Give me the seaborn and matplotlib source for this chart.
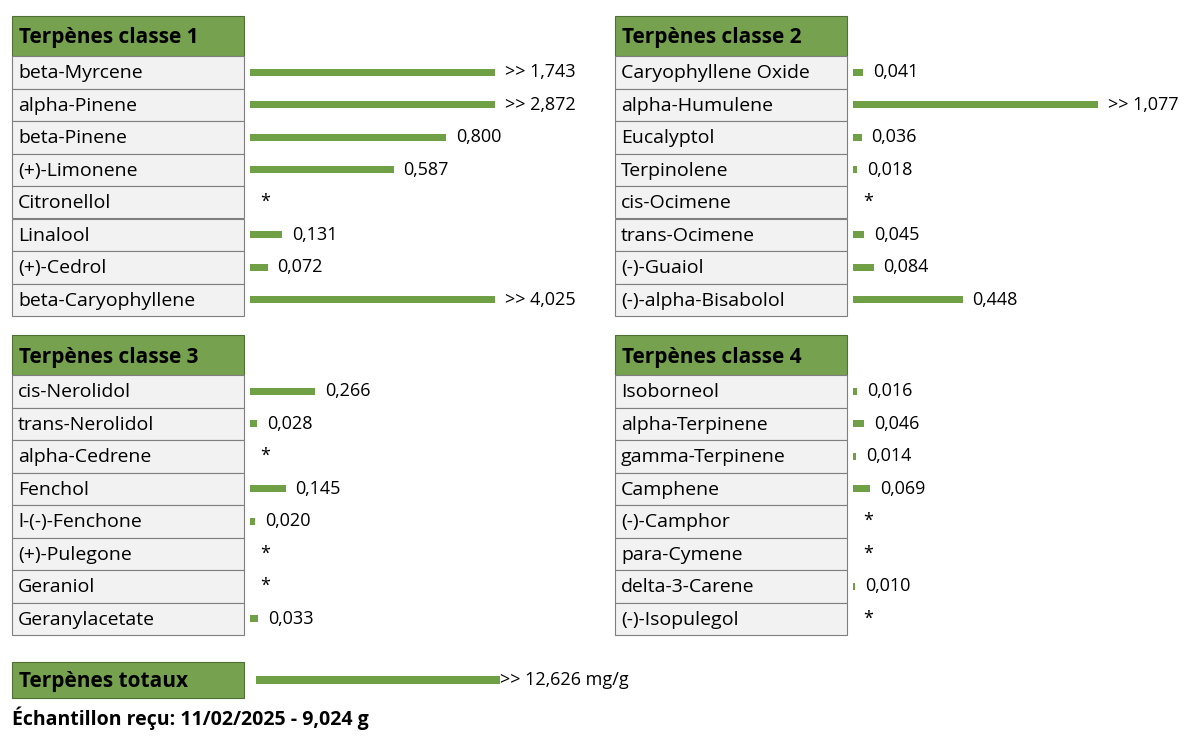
import numpy as np
import pandas as pd
import matplotlib
matplotlib.use("Agg")
import matplotlib.pyplot as plt
from matplotlib.patches import Rectangle
import seaborn as sns

# data
class1_names = ["beta-Myrcene", "alpha-Pinene", "beta-Pinene", "(+)-Limonene",
                "Citronellol", "Linalool", "(+)-Cedrol", "beta-Caryophyllene"]
class1_values = [1.743, 2.872, 0.800, 0.587, np.nan, 0.131, 0.072, 4.025]
class2_names = ["Caryophyllene Oxide", "alpha-Humulene", "Eucalyptol", "Terpinolene",
                "cis-Ocimene", "trans-Ocimene", "(-)-Guaiol", "(-)-alpha-Bisabolol"]
class2_values = [0.041, 1.077, 0.036, 0.018, np.nan, 0.045, 0.084, 0.448]
class3_names = ["cis-Nerolidol", "trans-Nerolidol", "alpha-Cedrene", "Fenchol",
                "l-(-)-Fenchone", "(+)-Pulegone", "Geraniol", "Geranylacetate"]
class3_values = [0.266, 0.028, np.nan, 0.145, 0.020, np.nan, np.nan, 0.033]
class4_names = ["Isoborneol", "alpha-Terpinene", "gamma-Terpinene", "Camphene",
                "(-)-Camphor", "para-Cymene", "delta-3-Carene", "(-)-Isopulegol"]
class4_values = [0.016, 0.046, 0.014, 0.069, np.nan, np.nan, 0.010, np.nan]
titles = ["Terpènes classe 1", "Terpènes classe 2", "Terpènes classe 3", "Terpènes classe 4"]
total_value = 12.626
footer = "Échantillon reçu: 11/02/2025 - 9,024 g"

W, H = 1200, 738
GREEN = "#76a250"
BAR = "#70a046"
FONT = "Open Sans"
plt.rcParams["font.family"] = FONT

fig = plt.figure(figsize=(W / 100, H / 100), dpi=100)


def frac(x, y):
    return x / W, 1 - y / H


def box(x0, y0, x1, y1, face, edge="#7f7f7f", lw=0.8):
    fx, fy = frac(x0, y1)
    fig.add_artist(Rectangle((fx, fy), (x1 - x0) / W, (y1 - y0) / H,
                             facecolor=face, edgecolor=edge, lw=lw,
                             transform=fig.transFigure))


def fmt(v):
    s = f"{v:.3f}".replace(".", ",")
    return (">> " + s) if v > 1 else s


def panel(x0, y0, title, names, values):
    hx1 = x0 + 232
    header_h, row_h = 40, 32.5
    box(x0, y0, hx1, y0 + header_h, GREEN, edge="#4f6f35")
    fig.text(*frac(x0 + 7, y0 + header_h / 2 + 2), title, fontsize=15,
             fontweight="bold", va="center", ha="left")
    top = y0 + header_h
    for i, n in enumerate(names):
        ry = top + i * row_h
        box(x0, ry, hx1, ry + row_h, "#f2f2f2")
        fig.text(*frac(x0 + 6, ry + row_h / 2 + 1), n, fontsize=14,
                 va="center", ha="left")
    # bar axes
    bx = hx1 + 6
    unit = 245
    ax_w = 1.4 * unit
    l, b = frac(bx, top + 8 * row_h)
    ax = fig.add_axes([l, b, ax_w / W, 8 * row_h / H])
    df = pd.DataFrame({"name": names, "value": values})
    df["bar"] = df["value"].clip(upper=1.0).fillna(0)
    sns.barplot(data=df, x="bar", y="name", orient="h", color=BAR,
                width=0.22, saturation=1, ax=ax)
    ax.set_xlim(0, 1.4)
    ax.axis("off")
    for i, v in enumerate(values):
        if np.isnan(v):
            ax.text(0.04, i, "*", fontsize=13, va="center", ha="left")
        else:
            ax.text(min(v, 1.0) + 0.04, i, fmt(v), fontsize=13,
                    va="center", ha="left")


panel(12, 16, titles[0], class1_names, class1_values)
panel(615, 16, titles[1], class2_names, class2_values)
panel(12, 335, titles[2], class3_names, class3_values)
panel(615, 335, titles[3], class4_names, class4_values)

# total
box(12, 662, 244, 698, GREEN, edge="#4f6f35")
fig.text(*frac(19, 682), "Terpènes totaux", fontsize=15, fontweight="bold",
         va="center", ha="left")
l, b = frac(256, 698)
ax = fig.add_axes([l, b, 400 / W, 36 / H])
sns.barplot(x=[min(total_value, 1.0)], y=["total"], orient="h", color=BAR,
            width=0.2, saturation=1, ax=ax)
ax.set_xlim(0, 400 / 244)
ax.axis("off")
ax.text(1.0, 0, ">> " + f"{total_value:.3f}".replace(".", ",") + " mg/g",
        fontsize=13, va="center", ha="left")

fig.text(*frac(12, 718), footer, fontsize=14, fontweight="bold",
         va="center", ha="left")

fig.savefig("out.png", dpi=100)
